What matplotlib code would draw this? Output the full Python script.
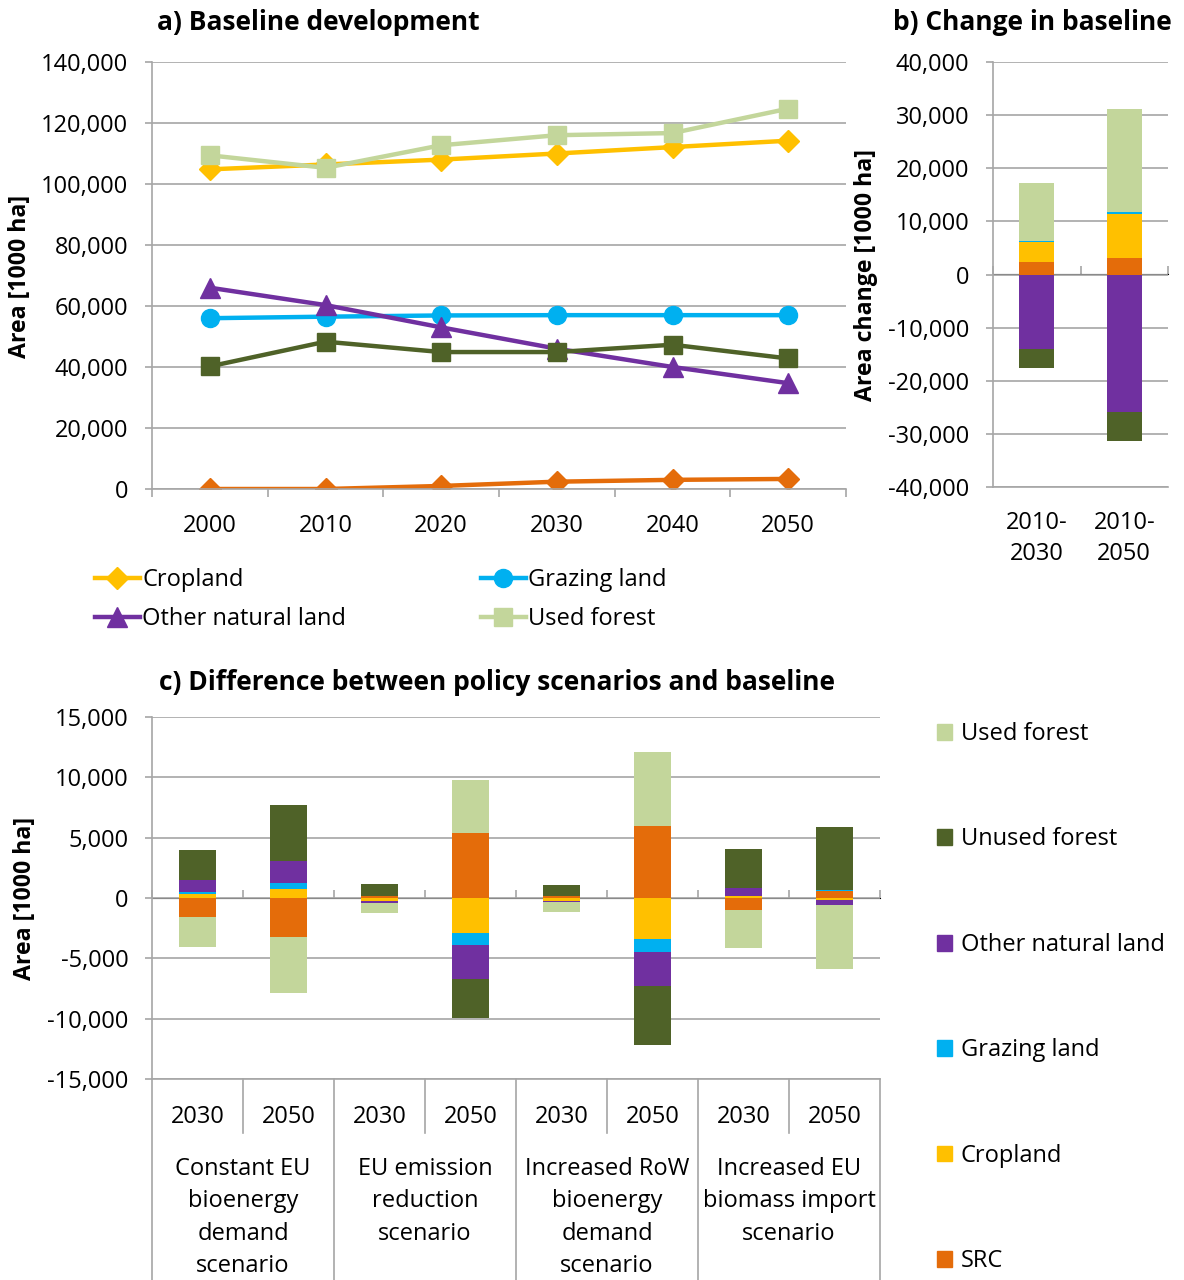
import matplotlib
matplotlib.use("Agg")
import matplotlib.pyplot as plt
import matplotlib.transforms as mtransforms
from matplotlib.lines import Line2D
from matplotlib.patches import Patch
from matplotlib.ticker import FuncFormatter, FixedLocator
import numpy as np

plt.rcParams["font.family"] = ["Open Sans", "DejaVu Sans"]

# ---------------- data ----------------
years = ["2000", "2010", "2020", "2030", "2040", "2050"]
cropland = [104800, 106400, 108000, 110000, 112100, 114200]
grazing_land = [56000, 56500, 56900, 57000, 57000, 57000]
other_natural_land = [66000, 60300, 53000, 46000, 40000, 34700]
unused_forest = [40200, 48300, 44900, 44900, 47300, 42800]
used_forest = [109400, 105300, 112700, 116000, 116700, 124700]
src = [0, 0, 1000, 2400, 3000, 3300]

periods = ["2010-\n2030", "2010-\n2050"]
chg_src = [2400, 3200]
chg_cropland = [3700, 8100]
chg_grazing = [300, 500]
chg_other_natural = [-14100, -25800]
chg_unused_forest = [-3500, -5600]
chg_used_forest = [10900, 19400]

scenario_years = ["2030", "2050"] * 4
scenarios = ["Constant EU\nbioenergy\ndemand\nscenario",
             "EU emission\nreduction\nscenario",
             "Increased RoW\nbioenergy\ndemand\nscenario",
             "Increased EU\nbiomass import\nscenario"]
diff_src = [-1570, -3200, 140, 5410, 140, 5940, -970, 550]
diff_cropland = [300, 750, -250, -2930, -220, -3400, 140, -170]
diff_grazing = [170, 470, -30, -1000, -30, -1050, 40, 140]
diff_other_natural = [1000, 1850, -140, -2760, -110, -2870, 610, -440]
diff_unused_forest = [2480, 4670, 1050, -3230, 970, -4830, 3230, 5170]
diff_used_forest = [-2520, -4640, -800, 4360, -800, 6160, -3200, -5280]

# ---------------- style ----------------
C_CROP = "#FFC000"
C_GRAZ = "#00B0F0"
C_OTHER = "#7030A0"
C_USED = "#C3D69B"
C_UNUSED = "#4F6228"
C_SRC = "#E46C0A"
GRID = "#A6A6A6"
FS = 17
TITLE_FS = 19
YLAB_FS = 16.7

W, H = 1184, 1280


def box(l, t, r, b):
    return [l / W, 1 - b / H, (r - l) / W, (b - t) / H]


def fmt(v, _):
    return f"{v:,.0f}"


def style_value_axis(ax, ticks):
    ax.set_yticks(ticks)
    ax.yaxis.set_major_formatter(FuncFormatter(fmt))
    ax.grid(axis="y", color=GRID, lw=1.2)
    ax.set_axisbelow(True)
    for s in ("top", "right"):
        ax.spines[s].set_visible(False)
    ax.spines["left"].set_color(GRID)
    ax.spines["left"].set_linewidth(1.2)
    ax.spines["bottom"].set_color(GRID)
    ax.spines["bottom"].set_linewidth(1.2)
    ax.tick_params(axis="y", length=5, width=1.2, color=GRID, pad=12,
                   labelsize=FS)
    ax.tick_params(axis="x", which="major", length=0, labelsize=FS)


fig = plt.figure(figsize=(W / 100, H / 100), dpi=100)

# ---------------- a) baseline development ----------------
axa = fig.add_axes(box(152, 62, 846, 489))
x = np.arange(len(years))
series_a = [
    (src, C_SRC, "D", 11, None),
    (cropland, C_CROP, "D", 11, "Cropland"),
    (grazing_land, C_GRAZ, "o", 13, "Grazing land"),
    (other_natural_land, C_OTHER, "^", 14, "Other natural land"),
    (unused_forest, C_UNUSED, "s", 13, None),
    (used_forest, C_USED, "s", 13, "Used forest"),
]
handles = {}
for vals, col, mk, ms, lab in series_a:
    ln, = axa.plot(x, vals, color=col, lw=3.2, marker=mk, ms=ms,
                   mec=col, mfc=col, label=lab)
    if lab:
        handles[lab] = ln
axa.set_xlim(-0.5, len(years) - 0.5)
axa.set_ylim(0, 140000)
style_value_axis(axa, np.arange(0, 140001, 20000))
axa.set_xticks(x)
axa.set_xticklabels(years)
axa.xaxis.set_minor_locator(FixedLocator(np.arange(-0.5, len(years), 1.0)))
axa.tick_params(axis="x", which="minor", length=6, width=1.2, color=GRID)
axa.tick_params(axis="x", which="major", pad=18)

order = ["Cropland", "Other natural land", "Grazing land", "Used forest"]
axa.legend([handles[k] for k in order], order, ncol=2, frameon=False,
           fontsize=FS, loc="upper left",
           bbox_to_anchor=(95 / W, 1 - 568 / H), bbox_transform=fig.transFigure,
           handlelength=1.9, handletextpad=0.1, columnspacing=5.7,
           labelspacing=0.65, borderaxespad=0, borderpad=0)

fig.text(157 / W, 1 - 23 / H, "a) Baseline development", fontsize=TITLE_FS,
         fontweight="bold", va="center", ha="left")
fig.text(20 / W, 1 - 276 / H, "Area [1000 ha]", fontsize=YLAB_FS,
         fontweight="bold", rotation=90, va="center", ha="center")


def stacked(ax, xpos, layers, width):
    pos = np.zeros(len(xpos))
    neg = np.zeros(len(xpos))
    for vals, col in layers:
        v = np.asarray(vals, dtype=float)
        bottom = np.where(v >= 0, pos, neg)
        ax.bar(xpos, v, width=width, bottom=bottom, color=col, lw=0,
               zorder=3)
        pos = pos + np.where(v >= 0, v, 0)
        neg = neg + np.where(v < 0, v, 0)


def zero_axis(ax, n):
    sec = ax.secondary_xaxis(0.5)
    sec.set_xticks(np.arange(-0.5, n, 1.0))
    sec.set_xticklabels([""] * (n + 1))
    sec.tick_params(axis="x", length=6, width=1.2, color=GRID)
    sec.spines["bottom"].set_color(GRID)
    sec.spines["bottom"].set_linewidth(1.2)
    return sec


# ---------------- b) change in baseline ----------------
axb = fig.add_axes(box(993, 62, 1168, 487))
xb = np.arange(len(periods))
stacked(axb, xb, [(chg_src, C_SRC), (chg_cropland, C_CROP),
                  (chg_grazing, C_GRAZ), (chg_other_natural, C_OTHER),
                  (chg_unused_forest, C_UNUSED), (chg_used_forest, C_USED)],
        0.4)
axb.set_xlim(-0.5, len(periods) - 0.5)
axb.set_ylim(-40000, 40000)
style_value_axis(axb, np.arange(-40000, 40001, 10000))
axb.set_xticks(xb)
axb.set_xticklabels(periods, linespacing=1.42)
axb.tick_params(axis="x", which="major", pad=17)
zero_axis(axb, len(periods))

fig.text(893 / W, 1 - 23 / H, "b) Change in baseline", fontsize=TITLE_FS,
         fontweight="bold", va="center", ha="left")
fig.text(866 / W, 1 - 275 / H, "Area change [1000 ha]", fontsize=YLAB_FS,
         fontweight="bold", rotation=90, va="center", ha="center")

# ---------------- c) policy scenarios vs baseline ----------------
axc = fig.add_axes(box(152, 717, 880, 1079))
xc = np.arange(len(scenario_years))
stacked(axc, xc, [(diff_src, C_SRC), (diff_cropland, C_CROP),
                  (diff_grazing, C_GRAZ), (diff_other_natural, C_OTHER),
                  (diff_unused_forest, C_UNUSED), (diff_used_forest, C_USED)],
        0.4)
axc.set_xlim(-0.5, len(scenario_years) - 0.5)
axc.set_ylim(-15000, 15000)
style_value_axis(axc, np.arange(-15000, 15001, 5000))
axc.set_xticks(xc)
axc.set_xticklabels(scenario_years)
axc.tick_params(axis="x", which="major", pad=18.5)
zero_axis(axc, len(scenario_years))

ax_h = (1079 - 717)
trans = mtransforms.blended_transform_factory(axc.transData, axc.transAxes)
for xv in np.arange(0.5, len(scenario_years), 2.0):
    axc.add_line(Line2D([xv, xv], [0, -54 / ax_h], transform=trans,
                        color=GRID, lw=1.2, clip_on=False))
for xv in np.arange(-0.5, len(scenario_years), 2.0):
    axc.add_line(Line2D([xv, xv], [0, -205 / ax_h], transform=trans,
                        color=GRID, lw=1.2, clip_on=False))
for i, name in enumerate(scenarios):
    axc.text(2 * i + 0.5, -78 / ax_h, name, transform=trans, ha="center",
             va="top", fontsize=FS, linespacing=1.47)

fig.text(497 / W, 1 - 682 / H,
         "c) Difference between policy scenarios and baseline",
         fontsize=TITLE_FS, fontweight="bold", va="center", ha="center")
fig.text(25 / W, 1 - 898 / H, "Area [1000 ha]", fontsize=YLAB_FS,
         fontweight="bold", rotation=90, va="center", ha="center")

legend_c = [("Used forest", C_USED), ("Unused forest", C_UNUSED),
            ("Other natural land", C_OTHER), ("Grazing land", C_GRAZ),
            ("Cropland", C_CROP), ("SRC", C_SRC)]
fig.legend([Patch(color=c) for _, c in legend_c], [n for n, _ in legend_c],
           loc="upper left", bbox_to_anchor=(937 / W, 1 - 722 / H),
           frameon=False, fontsize=FS, handlelength=0.65, handleheight=0.65,
           handletextpad=0.35, labelspacing=3.45, borderaxespad=0,
           borderpad=0)

fig.savefig("out.png", dpi=100)
